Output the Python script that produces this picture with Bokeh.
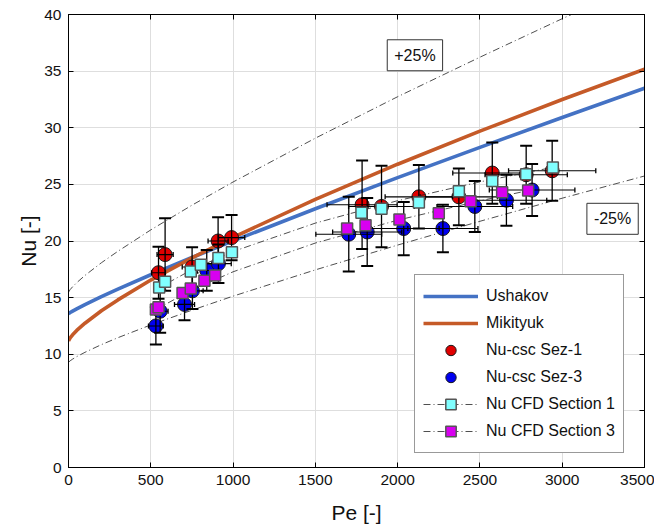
import math
from bokeh.plotting import figure
from bokeh.models import (ColumnDataSource, Legend, LegendItem, Label, LinearAxis,
                          Range1d, FixedTicker)
from bokeh.embed import file_html
from bokeh.resources import INLINE

# ---------------- data ----------------
x_ticks = [0, 500, 1000, 1500, 2000, 2500, 3000, 3500]
y_ticks = [0, 5, 10, 15, 20, 25, 30, 35, 40]

# correlations (Nu vs Pe)
pe_curve = [0, 10, 25, 50, 100, 200, 300, 500, 750, 1000, 1500, 2000, 2500, 3000, 3500]
nu_ushakov = [13.58, 13.68, 13.81, 14.01, 14.39, 15.09, 15.75, 17.02, 18.54, 20.01,
              22.85, 25.60, 28.27, 30.91, 33.49]
nu_mikityuk = [11.19, 11.45, 11.72, 12.10, 12.74, 13.84, 14.80, 16.55, 18.51, 20.33,
               23.67, 26.78, 29.70, 32.49, 35.16]
nu_plus25 = [15.48, 15.71, 15.96, 16.32, 16.96, 18.08, 19.09, 20.98, 23.16, 25.21,
             29.08, 32.74, 36.23, 39.63, 42.91]
nu_minus25 = [9.29, 9.42, 9.57, 9.79, 10.17, 10.85, 11.46, 12.59, 13.89, 15.13,
              17.45, 19.64, 21.74, 23.78, 25.74]

# experimental Nu-csc Sez-1
pe_sez1 = [547, 587, 751, 909, 991, 1784, 1902, 2129, 2372, 2575, 2781, 2939]
nu_sez1 = [17.2, 18.8, 17.7, 20.0, 20.3, 23.2, 23.05, 23.9, 23.9, 26.0, 25.85, 26.2]
nu_err_sez1 = [2.3, 3.2, 1.75, 2.1, 2.0, 3.9, 3.6, 2.8, 2.5, 2.7, 2.55, 2.65]
pe_err_sez1 = [42, 49, 60, 61, 80, 213, 200, 205, 235, 240, 250, 265]

# experimental Nu-csc Sez-3
pe_sez3 = [531, 557, 705, 753, 840, 911, 1703, 1815, 2037, 2275, 2469, 2661, 2817]
nu_sez3 = [12.5, 13.8, 14.4, 15.6, 17.4, 18.0, 20.6, 20.8, 21.1, 21.1, 23.05, 23.6, 24.5]
nu_err_sez3 = [1.65, 1.9, 1.4, 1.6, 1.8, 1.7, 3.3, 3.0, 2.35, 2.1, 2.25, 2.25, 2.3]
pe_err_sez3 = [45, 48, 61, 65, 72, 78, 200, 210, 215, 213, 230, 245, 260]

# CFD Section 1 / Section 3
pe_cfd1 = [551, 587, 743, 804, 911, 993, 1780, 1902, 2129, 2372, 2575, 2781, 2943]
nu_cfd1 = [15.9, 16.4, 17.3, 17.9, 18.5, 19.0, 22.5, 22.85, 23.4, 24.4, 25.3, 25.9, 26.5]
pe_cfd3 = [531, 547, 693, 743, 826, 891, 1693, 1805, 2011, 2250, 2443, 2635, 2793]
nu_cfd3 = [13.95, 14.15, 15.4, 15.8, 16.5, 16.95, 21.1, 21.4, 21.9, 22.45, 23.5, 24.3, 24.45]

# CFD trend lines
pe_fit1 = [530, 750, 1000, 1500, 2000, 2500, 2950]
nu_fit1 = [15.71, 17.47, 19.07, 21.58, 23.56, 25.22, 26.52]
pe_fit3 = [530, 750, 1000, 1500, 2000, 2500, 2800]
nu_fit3 = [13.94, 15.68, 17.28, 19.82, 21.84, 23.55, 24.47]

band_labels = ["+25%", "-25%"]

# ---------------- figure ----------------
FONT = "Liberation Sans"
p = figure(frame_width=576, frame_height=453,
           x_range=Range1d(0, 3500), y_range=Range1d(0, 40),
           output_backend="svg", toolbar_location=None,
           min_border_left=68, min_border_right=10, min_border_top=14, min_border_bottom=56)
p.background_fill_color = "white"
p.border_fill_color = "white"
p.outline_line_color = "black"
p.outline_line_width = 1

for ax, ticks in ((p.xaxis[0], x_ticks), (p.yaxis[0], y_ticks)):
    ax.ticker = FixedTicker(ticks=ticks)
    ax.major_tick_in = 5
    ax.major_tick_out = 0
    ax.minor_tick_line_color = None
    ax.axis_line_color = "black"
    ax.major_tick_line_color = "black"
    ax.major_label_text_font = FONT
    ax.major_label_text_font_size = "15.5px"
    ax.major_label_text_color = "#111111"
    ax.major_label_standoff = 7
    ax.axis_label_text_font = FONT
    ax.axis_label_text_font_size = "21px"
    ax.axis_label_text_font_style = "normal"
    ax.axis_label_text_color = "#111111"
p.xaxis.axis_label = "Pe [-]"
p.yaxis.axis_label = "Nu [-]"
p.xaxis.axis_label_standoff = 13
p.yaxis.axis_label_standoff = 1

for side, ticks in (("right", y_ticks), ("above", x_ticks)):
    a = LinearAxis(ticker=FixedTicker(ticks=ticks), major_tick_in=5, major_tick_out=0,
                   minor_tick_line_color=None, major_label_text_font_size="1px",
                   major_label_text_color=None,
                   major_label_standoff=0, axis_line_color="black")
    p.add_layout(a, side)

p.xgrid.ticker = FixedTicker(ticks=x_ticks)
p.ygrid.ticker = FixedTicker(ticks=y_ticks)
p.grid.grid_line_color = "#dedede"
p.grid.grid_line_width = 1

DASHDOT = "7 3 1 3"

# +/-25 % band
p.line(pe_curve, nu_plus25, line_color="#222222", line_width=0.8, line_dash=DASHDOT)
p.line(pe_curve, nu_minus25, line_color="#222222", line_width=0.8, line_dash=DASHDOT)

# correlations
r_ush = p.line(pe_curve, nu_ushakov, line_color="#4472C4", line_width=3.6)
r_mik = p.line(pe_curve, nu_mikityuk, line_color="#C55A28", line_width=3.6)


def errorbars(pe, nu, nu_err, pe_err, fill):
    src = ColumnDataSource(dict(
        x=pe, y=nu,
        ylo=[v - e for v, e in zip(nu, nu_err)], yhi=[v + e for v, e in zip(nu, nu_err)],
        xlo=[v - e for v, e in zip(pe, pe_err)], xhi=[v + e for v, e in zip(pe, pe_err)]))
    r = p.scatter("x", "y", source=src, marker="circle", size=14, fill_color=fill,
                  line_color="#1a1a1a", line_width=1)
    p.segment("x", "ylo", "x", "yhi", source=src, line_color="black", line_width=1.3)
    p.segment("xlo", "y", "xhi", "y", source=src, line_color="black", line_width=1.1)
    p.scatter("x", "ylo", source=src, marker="dash", size=12, line_color="black", line_width=2)
    p.scatter("x", "yhi", source=src, marker="dash", size=12, line_color="black", line_width=2)
    p.scatter("xlo", "y", source=src, marker="dash", angle=math.pi / 2, size=5,
              line_color="black", line_width=1.3)
    p.scatter("xhi", "y", source=src, marker="dash", angle=math.pi / 2, size=5,
              line_color="black", line_width=1.3)
    return r


r_s1 = errorbars(pe_sez1, nu_sez1, nu_err_sez1, pe_err_sez1, "#E00000")
r_s3 = errorbars(pe_sez3, nu_sez3, nu_err_sez3, pe_err_sez3, "#0000F0")

# CFD trend lines and markers
r_f1 = p.line(pe_fit1, nu_fit1, line_color="#222222", line_width=0.8, line_dash=DASHDOT)
r_f3 = p.line(pe_fit3, nu_fit3, line_color="#222222", line_width=0.8, line_dash=DASHDOT)
r_c1 = p.scatter(pe_cfd1, nu_cfd1, marker="square", size=11, fill_color="#80FFFF",
                 line_color="#555555", line_width=1.5)
r_c3 = p.scatter(pe_cfd3, nu_cfd3, marker="square", size=11, fill_color="#D800F0",
                 line_color="#555555", line_width=1.5)

# band labels
for txt, xv, yv in ((band_labels[0], 2105, 36.4), (band_labels[1], 3306, 21.96)):
    p.add_layout(Label(x=xv, y=yv, text=txt, text_align="center", text_baseline="middle",
                       text_font=FONT, text_font_size="16px", text_color="#111111",
                       background_fill_color="white", border_line_color="#333333",
                       border_line_width=1, padding=7))

legend = Legend(items=[
    LegendItem(label="Ushakov", renderers=[r_ush]),
    LegendItem(label="Mikityuk", renderers=[r_mik]),
    LegendItem(label="Nu-csc Sez-1", renderers=[r_s1]),
    LegendItem(label="Nu-csc Sez-3", renderers=[r_s3]),
    LegendItem(label="Nu CFD Section 1", renderers=[r_f1, r_c1]),
    LegendItem(label="Nu CFD Section 3", renderers=[r_f3, r_c3]),
], location=(346, 14))
legend.label_text_font = FONT
legend.label_text_font_size = "16px"
legend.label_text_color = "#111111"
legend.glyph_width = 55
legend.glyph_height = 26
legend.label_height = 26
legend.spacing = 1
legend.padding = 8
legend.margin = 0
legend.label_standoff = 8
legend.border_line_color = "#333333"
legend.border_line_width = 1
legend.background_fill_color = "white"
legend.background_fill_alpha = 1
p.add_layout(legend)

open("out.html", "w").write(file_html(p, INLINE))
